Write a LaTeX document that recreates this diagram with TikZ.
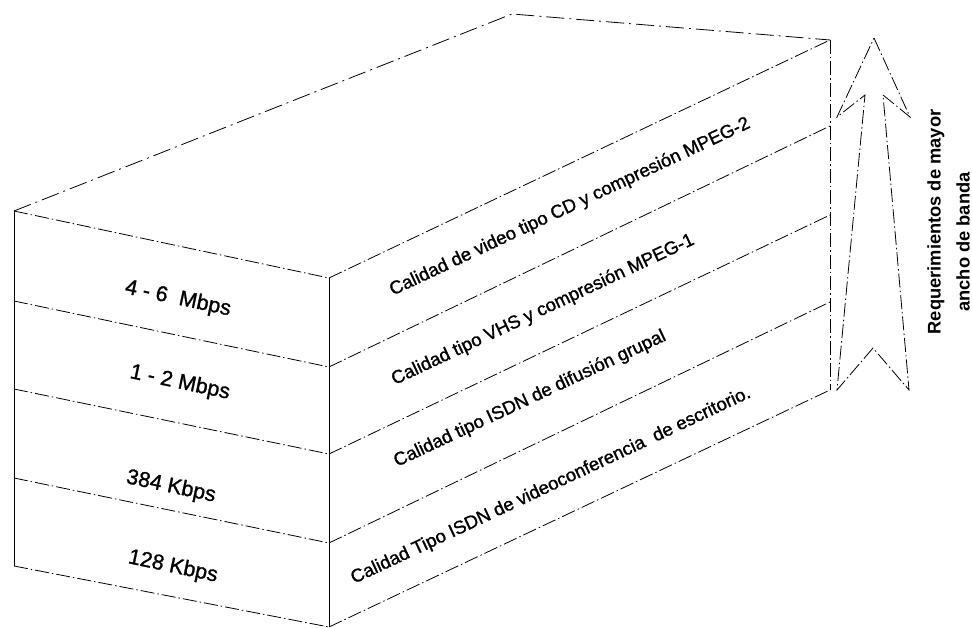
\documentclass[tikz,border=0pt]{standalone}
\usepackage{fontspec}
\setmainfont{Liberation Sans}
\newfontfamily\heavysans[FakeBold=1.2]{Liberation Sans}
\begin{document}
\begin{tikzpicture}[x=1pt,y=-1pt,
  solidedge/.style={line width=0.9pt},
  dashdot/.style={line width=0.8pt, dash pattern=on 14pt off 3pt on 1.5pt off 3pt},
  topdash/.style={line width=0.8pt, dash pattern=on 18pt off 5pt on 2pt off 5pt},
  rate/.style={font=\heavysans\fontsize{21.5}{23}\selectfont, rotate=-12, inner sep=0pt},
  quality/.style={font=\heavysans\fontsize{18.5}{20}\selectfont, rotate=25.2, inner sep=0pt},
  axislabel/.style={font=\fontsize{18.3}{20}\selectfont\bfseries, rotate=90, inner sep=0pt}]
\useasboundingbox (0,0) rectangle (972,628);

% corners of the front face, top to bottom
\coordinate (F0L) at (14,211);  \coordinate (F0R) at (329,278);
\coordinate (F1L) at (14,301);  \coordinate (F1R) at (329,367);
\coordinate (F2L) at (14,389);  \coordinate (F2R) at (329,454);
\coordinate (F3L) at (14,478);  \coordinate (F3R) at (329,543);
\coordinate (F4L) at (14,566);  \coordinate (F4R) at (329,627);
% back edge of the side face
\coordinate (B0) at (830,40);
\coordinate (B1) at (830,126);
\coordinate (B2) at (830,215);
\coordinate (B3) at (830,302);
\coordinate (B4) at (830,390);
% far corner of the top face
\coordinate (T) at (512,14);

% top face
\draw[topdash] (F0L) -- (T) -- (B0);

% front face
\draw[solidedge] (F0L) -- (F4L);
\draw[solidedge] (F0R) -- (F4R);
\foreach \i in {0,...,4}{
  \draw[dashdot] (F\i L) -- (F\i R);
  \draw[dashdot] (F\i R) -- (B\i);
}
\draw[dashdot] (B0) -- (B4);

% bandwidth per layer
\node[rate] (r1) at (178,299) {4 - 6\ \ Mbps};
\node[rate] (r2) at (180,383) {1 - 2 Mbps};
\node[rate] (r3) at (171,487) {384 Kbps};
\node[rate] (r4) at (173,567) {128 Kbps};

% quality per layer
\node[quality] (q1) at (570,207) {Calidad de video tipo CD y compresión MPEG-2};
\node[quality] (q2) at (543,310) {Calidad tipo VHS y compresión MPEG-1};
\node[quality] (q3) at (530,399) {Calidad tipo ISDN de difusión grupal};
\node[quality] (q4) at (551,486) {Calidad Tipo ISDN de videoconferencia\ \ de escritorio.};

% hollow upward arrow
\coordinate (Atip) at (874,38);
\coordinate (Arb) at (910,117);
\coordinate (Ari) at (883,95);
\coordinate (Arbot) at (909,390);
\coordinate (Anotch) at (873,348);
\coordinate (Albot) at (837,390);
\coordinate (Ali) at (865,95);
\coordinate (Alb) at (837,117);
\draw[dashdot] (Atip) -- (Arb) -- (Ari) -- (Arbot) -- (Anotch) -- (Albot) -- (Ali) -- (Alb) -- cycle;

% caption of the arrow
\node[axislabel] (cap1) at (936,222) {Requerimientos de mayor};
\node[axislabel] (cap2) at (963,242) {ancho de banda};
\end{tikzpicture}
\end{document}
